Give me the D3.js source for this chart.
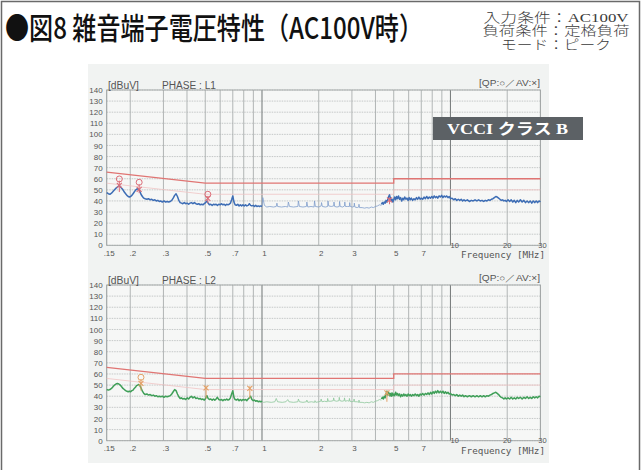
<!DOCTYPE html>
<html>
<head>
<meta charset="utf-8">
<script src="https://cdn.jsdelivr.net/npm/d3@7"></script>
<style>
  html, body { margin: 0; padding: 0; background: #ffffff; }
  svg { display: block; }
</style>
</head>
<body>
<svg id="chart" width="641" height="470"></svg>
<script>
// ---- data ---------------------------------------------------------------
const yTicks = [0, 10, 20, 30, 40, 50, 60, 70, 80, 90, 100, 110, 120, 130, 140];
const gridFreqs = [0.15, 0.2, 0.3, 0.4, 0.5, 0.6, 0.7, 0.8, 0.9, 1, 2, 3, 4, 5, 6, 7, 8, 9, 10, 20, 30];
const strongGridFreqs = [1, 10];
const xTickValues = [0.15, 0.2, 0.3, 0.5, 0.7, 1, 2, 3, 5, 7];
const xTickLabels = [".15", ".2", ".3", ".5", ".7", "1", "2", "3", "5", "7"];
const xHighTicks = [10, 20, 30];

// VCCI class B limits [MHz, dBuV]
const qpLimit = [[0.15, 66], [0.5, 56], [5, 56], [5, 60], [30, 60]];
const avLimit = [[0.15, 56], [0.5, 46], [5, 46], [5, 50], [30, 50]];

// Phase L1 measured level [MHz, dBuV]
const l1Low = [[0.150,47.5],[0.153,46.5],[0.156,46],[0.159,47],[0.162,48.5],[0.165,50],[0.168,51.5],[0.171,52.5],[0.174,53.5],[0.177,53],[0.180,51.5],[0.183,50],[0.186,48],[0.189,46.5],[0.192,45],[0.195,44],[0.198,43.5],[0.201,44],[0.204,45],[0.207,46.5],[0.210,48],[0.213,49.5],[0.216,50.5],[0.219,51],[0.222,50.5],[0.225,48.5],[0.228,46],[0.232,44],[0.236,42.5],[0.240,42],[0.245,41.5],[0.250,42],[0.255,41],[0.260,41.5],[0.265,40.5],[0.270,41],[0.275,40],[0.280,40.5],[0.285,39.5],[0.290,40],[0.296,39],[0.302,40],[0.308,39],[0.314,39.5],[0.320,39],[0.326,39.5],[0.332,40.5],[0.338,42.5],[0.344,45],[0.350,46.5],[0.356,44],[0.362,40.5],[0.368,38.5],[0.374,38],[0.380,37.5],[0.387,38.5],[0.394,37.5],[0.401,38],[0.408,37],[0.415,38],[0.422,38.5],[0.430,37.5],[0.438,38.5],[0.446,37.5],[0.454,37],[0.462,37.5],[0.470,36.5],[0.478,37],[0.486,36.5],[0.494,37.5],[0.502,38.5],[0.510,40],[0.518,38],[0.526,36.5],[0.535,37],[0.544,36],[0.553,37],[0.562,36.5],[0.571,37],[0.580,36],[0.590,37],[0.600,36.5],[0.610,37.5],[0.620,36.5],[0.630,37],[0.640,36],[0.650,37],[0.660,36.5],[0.670,37],[0.680,38],[0.690,41],[0.700,44.5],[0.710,39],[0.720,36.5],[0.732,36],[0.744,37],[0.756,35.5],[0.768,36.5],[0.780,35.5],[0.792,36.5],[0.805,35.5],[0.818,36.5],[0.831,35.5],[0.844,36],[0.857,37.5],[0.870,36],[0.884,35.5],[0.898,36],[0.912,35],[0.926,36],[0.940,35],[0.955,35.5],[0.970,35],[0.985,35.5],[1.00,35]];
const l1Mid = [[1.00,35],[1.01,43],[1.03,36],[1.06,34.5],[1.10,35],[1.15,34.5],[1.19,35],[1.20,38],[1.21,35],[1.27,34.5],[1.33,35],[1.37,34.5],[1.38,39],[1.40,35],[1.47,34.5],[1.55,35],[1.56,40],[1.58,35],[1.65,34.5],[1.72,35],[1.73,39],[1.75,34.5],[1.82,35],[1.89,34.5],[1.90,40],[1.92,35],[2.00,34.5],[2.06,35.5],[2.07,38.5],[2.09,35],[2.17,34.5],[2.23,35],[2.24,40],[2.26,35.5],[2.33,35],[2.40,35.5],[2.41,39],[2.43,35],[2.50,34.5],[2.57,35],[2.58,39.5],[2.60,35],[2.68,34.5],[2.74,35.5],[2.75,39],[2.77,35],[2.85,35],[2.91,35],[2.92,38.5],[2.94,35],[3.02,34.5],[3.08,35],[3.09,38],[3.11,34.5],[3.20,34],[3.26,34.5],[3.27,37],[3.29,34],[3.40,34],[3.50,33.5],[3.60,34],[3.70,33.5],[3.80,34.5],[3.90,34],[4.00,35],[4.10,35.5],[4.20,36.5],[4.30,36]];
const l1High = [[4.30,37],[4.35,38.5],[4.40,37],[4.45,39],[4.50,38],[4.55,40.5],[4.60,39],[4.65,41],[4.70,44],[4.75,45.5],[4.80,42.5],[4.85,40],[4.90,41.5],[4.95,39],[5.00,41],[5.06,43.5],[5.12,41],[5.18,44],[5.24,42],[5.30,44.5],[5.37,41.5],[5.44,43],[5.51,40],[5.58,42.5],[5.65,41],[5.72,43.5],[5.80,41.5],[5.88,42.5],[5.96,40.5],[6.04,43],[6.12,41],[6.20,42.5],[6.30,40.5],[6.40,42],[6.50,41],[6.60,43],[6.70,41.5],[6.80,43.5],[6.90,41.5],[7.00,42.5],[7.12,41.5],[7.24,43.5],[7.36,42],[7.48,44],[7.60,42],[7.72,43.5],[7.84,42.5],[7.96,44],[8.08,42.5],[8.20,44.5],[8.32,43],[8.44,44],[8.56,42.5],[8.70,44.5],[8.84,43.5],[8.98,45],[9.12,43],[9.26,44.5],[9.40,43.5],[9.55,44.5],[9.70,43],[9.85,44],[10.0,42],[10.2,42.5],[10.4,41],[10.6,42],[10.8,40.5],[11.0,41.5],[11.2,40.5],[11.4,41.5],[11.6,40],[11.8,41],[12.0,40],[12.3,41],[12.6,39.5],[12.9,40.5],[13.2,40],[13.5,41],[13.8,40],[14.1,41],[14.4,40],[14.7,40.5],[15.0,39.5],[15.3,40.5],[15.6,40],[15.9,41],[16.2,40.5],[16.5,41.5],[16.8,42],[17.1,43],[17.4,44],[17.7,43.5],[18.0,42.5],[18.3,41.5],[18.6,40.5],[18.9,41],[19.2,40],[19.5,40.5],[19.8,39.5],[20.2,41],[20.6,39.5],[21.0,41],[21.4,39],[21.8,40.5],[22.2,38.5],[22.6,40.5],[23.0,39],[23.5,41],[24.0,39],[24.5,40.5],[25.0,38.5],[25.5,40],[26.0,38.5],[26.5,40],[27.0,38],[27.5,40],[28.0,38.5],[28.5,40],[29.0,38.5],[29.5,40],[30.0,39]];

// Phase L2 measured level [MHz, dBuV]
const l2Low = [[0.150,46],[0.153,45.5],[0.156,46],[0.159,47],[0.162,48.5],[0.165,50],[0.168,51],[0.171,51.5],[0.174,51],[0.177,50],[0.180,48.5],[0.183,47],[0.186,46],[0.189,45],[0.192,44.5],[0.195,44],[0.198,44.5],[0.201,44],[0.204,45],[0.207,45.5],[0.210,47],[0.213,48],[0.216,49.5],[0.219,50],[0.222,50.5],[0.225,49.5],[0.228,47.5],[0.232,44.5],[0.236,42.5],[0.240,41.5],[0.245,42],[0.250,41],[0.255,41.5],[0.260,40.5],[0.265,41],[0.270,40],[0.275,40.5],[0.280,39.5],[0.285,40],[0.290,39.5],[0.296,40],[0.302,39],[0.308,40],[0.314,39.5],[0.320,40],[0.326,40.5],[0.332,42],[0.338,44],[0.344,46],[0.350,45],[0.356,42],[0.362,39.5],[0.368,38],[0.374,38.5],[0.380,37.5],[0.387,38],[0.394,37],[0.401,38.5],[0.408,37.5],[0.415,39],[0.422,40],[0.430,38.5],[0.438,39.5],[0.446,38],[0.454,38.5],[0.462,37.5],[0.470,38],[0.478,37],[0.486,37.5],[0.494,36.5],[0.502,38],[0.510,40.5],[0.518,38],[0.526,37],[0.535,37.5],[0.544,36.5],[0.553,37.5],[0.562,36.5],[0.571,37.5],[0.580,39],[0.590,37],[0.600,36.5],[0.610,37],[0.620,36],[0.630,37],[0.640,36.5],[0.650,37.5],[0.660,36.5],[0.670,37],[0.680,38.5],[0.690,42],[0.700,45],[0.710,39],[0.720,37],[0.732,36.5],[0.744,37.5],[0.756,36],[0.768,37],[0.780,36],[0.792,37],[0.805,36.5],[0.818,37],[0.831,36],[0.844,37.5],[0.857,38.5],[0.870,40],[0.884,37],[0.898,36],[0.912,36.5],[0.926,35.5],[0.940,36],[0.955,35],[0.970,35.5],[0.985,35],[1.00,35.5]];
const l2Mid = [[1.00,35.5],[1.02,34.5],[1.06,35],[1.12,34.5],[1.17,35],[1.19,38],[1.21,35],[1.28,34.5],[1.34,35],[1.37,37],[1.39,35],[1.47,34.5],[1.55,35],[1.56,37.5],[1.58,35],[1.65,34.5],[1.72,35],[1.73,36.5],[1.75,34.5],[1.83,35],[1.90,34.5],[1.91,36],[1.93,34.5],[2.00,35],[2.05,35.5],[2.06,37.5],[2.08,35],[2.15,35.5],[2.22,35],[2.23,38],[2.25,35.5],[2.32,35.5],[2.39,36],[2.40,38.5],[2.42,36],[2.49,35.5],[2.56,36],[2.57,39],[2.59,36],[2.66,35.5],[2.73,36],[2.74,38.5],[2.76,35.5],[2.84,36],[2.90,35.5],[2.91,38],[2.93,35.5],[3.00,35],[3.07,35.5],[3.08,37.5],[3.10,35],[3.20,35],[3.26,34.5],[3.27,36.5],[3.29,34.5],[3.40,34.5],[3.50,34],[3.60,34.5],[3.70,34],[3.80,35],[3.90,34.5],[4.00,35.5],[4.10,36],[4.20,37],[4.30,36.5]];
const l2High = [[4.30,37.5],[4.35,39],[4.40,37.5],[4.45,40],[4.50,38.5],[4.55,42],[4.60,44.5],[4.65,41],[4.70,43.5],[4.75,40.5],[4.80,42.5],[4.85,40],[4.90,43],[4.95,40.5],[5.00,42],[5.06,40.5],[5.12,43.5],[5.18,41],[5.24,42.5],[5.30,40.5],[5.37,42],[5.44,39.5],[5.51,41.5],[5.58,40],[5.65,42],[5.72,40.5],[5.80,41.5],[5.88,40],[5.96,42],[6.04,40.5],[6.12,41.5],[6.20,40],[6.30,41.5],[6.40,40.5],[6.50,42],[6.60,40.5],[6.70,41.5],[6.80,40],[6.90,42],[7.00,41],[7.12,42.5],[7.24,41],[7.36,42.5],[7.48,41.5],[7.60,43],[7.72,41.5],[7.84,43.5],[7.96,42],[8.08,44],[8.20,42.5],[8.32,44.5],[8.44,43],[8.56,45],[8.70,43],[8.84,44.5],[8.98,43],[9.12,44.5],[9.26,42.5],[9.40,44],[9.55,42.5],[9.70,43.5],[9.85,42],[10.0,42.5],[10.2,41],[10.4,41.5],[10.6,40.5],[10.8,41.5],[11.0,40],[11.2,41],[11.4,40],[11.6,41],[11.8,39.5],[12.0,40.5],[12.3,39.5],[12.6,40.5],[12.9,39.5],[13.2,40.5],[13.5,39.5],[13.8,40.5],[14.1,39.5],[14.4,40.5],[14.7,39.5],[15.0,40.5],[15.3,39.5],[15.6,40.5],[15.9,40],[16.2,41],[16.5,41.5],[16.8,42.5],[17.1,43],[17.4,43.5],[17.7,42.5],[18.0,41.5],[18.3,40],[18.6,39],[18.9,38.5],[19.2,37.5],[19.5,38.5],[19.8,37.5],[20.2,38.5],[20.6,37.5],[21.0,39],[21.4,37.5],[21.8,38.5],[22.2,37.5],[22.6,39],[23.0,38],[23.5,39],[24.0,37.5],[24.5,39],[25.0,38],[25.5,39.5],[26.0,38],[26.5,39],[27.0,38],[27.5,39.5],[28.0,38.5],[28.5,39.5],[29.0,38.5],[29.5,40],[30.0,39.5]];

// Peak markers: frequency, QP reading, AV reading, foot of the stem
const l1Marks = [
  { f: 0.175, qp: 59.8, av: 54.0, foot: 48 },
  { f: 0.223, qp: 56.8, av: 50.5, foot: 47 },
  { f: 0.516, qp: 46.0, av: 42.4, foot: 38 },
  { f: 4.75,  qp: null, av: 41.0, foot: 37 }
];
const l2Marks = [
  { f: 0.228, qp: 57.0, av: 51.6, foot: 45 },
  { f: 0.505, qp: null, av: 47.5, foot: 38 },
  { f: 0.862, qp: null, av: 47.0, foot: 38 },
  { f: 4.6,   qp: null, av: 43.0, foot: 35 }
];

// ---- drawing -----------------------------------------------------------
const svg = d3.select("#chart");
const sans = "'Liberation Sans', Arial, sans-serif";
const mono = "'DejaVu Sans Mono', 'Liberation Mono', monospace";
const cjk = "'Noto Sans CJK JP', sans-serif";
const serifMix = "'Liberation Serif', 'Noto Sans CJK JP', serif";

// outer frame
svg.append("path")
  .attr("d", "M1.5,470 V1.5 H639.5 V470")
  .attr("fill", "none").attr("stroke", "#6a6a6a").attr("stroke-width", 1.5);

// heading
svg.append("text")
  .attr("x", 5).attr("y", 39)
  .attr("font-family", cjk).attr("font-weight", 500)
  .attr("font-size", 30).attr("fill", "#111")
  .attr("textLength", 418).attr("lengthAdjust", "spacingAndGlyphs")
  .text("●図8 雑音端子電圧特性（AC100V時）");

// test conditions, one text block of three lines
const conditions = ["入力条件：AC100V", "負荷条件：定格負荷", "モード：ピーク"];
const condWidths = [145, 147, 110];
const condBlock = svg.append("text")
  .attr("x", 556).attr("y", 21.5)
  .attr("text-anchor", "middle")
  .attr("font-family", serifMix).attr("font-weight", 300)
  .attr("font-size", 13).attr("fill", "#3a3a3a");
conditions.forEach((t, i) => {
  condBlock.append("tspan")
    .attr("x", 556).attr("dy", i === 0 ? 0 : 13.5)
    .attr("textLength", condWidths[i]).attr("lengthAdjust", "spacingAndGlyphs")
    .text(t);
});

// scanned-sheet panel
svg.append("rect")
  .attr("x", 88).attr("y", 64).attr("width", 461).attr("height", 399)
  .attr("fill", "#f1f3f2");

const left = 106.7, right = 540.4;
const x = d3.scaleLog().domain([0.15, 30]).range([left, right]);

function drawPlot(top, bottom, phase, lowData, midData, highData, color, thinColor, marks, markColor) {
  const y = d3.scaleLinear().domain([0, 140]).range([bottom, top]);
  const g = svg.append("g");

  g.append("rect")
    .attr("x", left).attr("y", top).attr("width", right - left).attr("height", bottom - top)
    .attr("fill", "#f6f7f6");

  // horizontal grid
  g.selectAll(".hg").data(yTicks).join("line")
    .attr("x1", left).attr("x2", right)
    .attr("y1", d => y(d)).attr("y2", d => y(d))
    .attr("stroke", "#b9bdbd").attr("stroke-width", 0.8)
    .attr("stroke-dasharray", "1.5,1");

  // vertical grid
  g.selectAll(".vg").data(gridFreqs).join("line")
    .attr("x1", d => x(d)).attr("x2", d => x(d))
    .attr("y1", top).attr("y2", bottom)
    .attr("stroke", d => strongGridFreqs.includes(d) ? "#7c8080" : "#a9aeae")
    .attr("stroke-width", d => strongGridFreqs.includes(d) ? 1.1 : 0.9);

  g.append("rect")
    .attr("x", left).attr("y", top).attr("width", right - left).attr("height", bottom - top)
    .attr("fill", "none").attr("stroke", "#a0a5a5").attr("stroke-width", 0.9);

  // axis labels via d3 axes (domain + tick lines hidden)
  const yAxis = g.append("g")
    .attr("transform", `translate(${left - 3},0)`)
    .call(d3.axisLeft(y).tickValues(yTicks).tickSize(0).tickPadding(1));
  yAxis.select(".domain").remove();
  yAxis.selectAll("text").attr("font-family", sans).attr("font-size", 8).attr("fill", "#555");

  const xAxis = g.append("g")
    .attr("transform", `translate(2,${bottom + 4})`)
    .call(d3.axisBottom(x).tickValues(xTickValues)
      .tickFormat((d, i) => xTickLabels[i]).tickSize(0).tickPadding(1));
  xAxis.select(".domain").remove();
  xAxis.selectAll("text").attr("font-family", sans).attr("font-size", 8).attr("fill", "#555");

  g.selectAll(".xh").data(xHighTicks).join("text")
    .attr("x", d => x(d) + (d === 30 ? 2 : 0))
    .attr("y", bottom + 2.5)
    .attr("text-anchor", d => d === 10 ? "start" : "middle")
    .attr("font-family", sans).attr("font-size", 7.5).attr("fill", "#555")
    .text(d => d);

  g.append("text")
    .attr("x", 545).attr("y", bottom + 13)
    .attr("text-anchor", "end")
    .attr("font-family", mono).attr("font-size", 9).attr("fill", "#555")
    .attr("textLength", 84).attr("lengthAdjust", "spacingAndGlyphs")
    .text("Frequency [MHz]");

  g.append("text")
    .attr("x", 108).attr("y", top - 1.5)
    .attr("font-family", sans).attr("font-size", 10).attr("fill", "#555")
    .attr("textLength", 31).attr("lengthAdjust", "spacingAndGlyphs")
    .text("[dBuV]");
  g.append("text")
    .attr("x", 162).attr("y", top - 1.5)
    .attr("font-family", sans).attr("font-size", 10).attr("fill", "#555")
    .attr("textLength", 54).attr("lengthAdjust", "spacingAndGlyphs")
    .text("PHASE :  " + phase);
  g.append("text")
    .attr("x", 540).attr("y", top - 4)
    .attr("text-anchor", "end")
    .attr("font-family", sans).attr("font-size", 8.5).attr("fill", "#555")
    .attr("textLength", 61).attr("lengthAdjust", "spacingAndGlyphs")
    .text("[QP:○／AV:×]");

  // limit lines
  const lim = d3.line().x(d => x(d[0])).y(d => y(d[1]));
  g.append("path").attr("d", lim(avLimit))
    .attr("fill", "none").attr("stroke", "#f0c4c4").attr("stroke-width", 0.8);
  g.append("path").attr("d", lim(qpLimit))
    .attr("fill", "none").attr("stroke", "#e07573").attr("stroke-width", 1.3);

  // measured level
  const trace = d3.line().x(d => x(d[0])).y(d => y(d[1]));
  g.append("path").attr("d", trace(midData))
    .attr("fill", "none").attr("stroke", thinColor).attr("stroke-width", 0.8);
  [lowData, highData].forEach(data => {
    g.append("path").attr("d", trace(data))
      .attr("fill", "none").attr("stroke", color).attr("stroke-width", 1.5)
      .attr("stroke-linejoin", "round");
  });

  // peak markers
  marks.forEach(m => {
    const mx = x(m.f);
    const topVal = m.qp !== null ? m.qp - 1.5 : m.av + 2;
    g.append("line")
      .attr("x1", mx).attr("x2", mx)
      .attr("y1", y(topVal)).attr("y2", y(m.foot))
      .attr("stroke", markColor).attr("stroke-width", 1);
    if (m.qp !== null) {
      g.append("circle")
        .attr("cx", mx).attr("cy", y(m.qp)).attr("r", 3)
        .attr("fill", "none").attr("stroke", markColor).attr("stroke-width", 1);
    }
    const ay = y(m.av), s = 2.5;
    g.append("path")
      .attr("d", `M${mx - s},${ay - s}L${mx + s},${ay + s}M${mx + s},${ay - s}L${mx - s},${ay + s}`)
      .attr("stroke", markColor).attr("stroke-width", 1.1);
  });
}

drawPlot(90, 245.3, "L1", l1Low, l1Mid, l1High, "#3d6db5", "#7f9dcc", l1Marks, "#dc6d78");
drawPlot(285, 440.7, "L2", l2Low, l2Mid, l2High, "#3f9f58", "#8dc79b", l2Marks, "#e3a167");

// class label
svg.append("rect")
  .attr("x", 433).attr("y", 117).attr("width", 150).attr("height", 23)
  .attr("fill", "#5c6165");
svg.append("text")
  .attr("x", 447).attr("y", 134)
  .attr("font-family", serifMix).attr("font-weight", "bold")
  .attr("font-size", 15).attr("fill", "#ffffff")
  .attr("textLength", 121).attr("lengthAdjust", "spacingAndGlyphs")
  .text("VCCI クラス B");
</script>
</body>
</html>
